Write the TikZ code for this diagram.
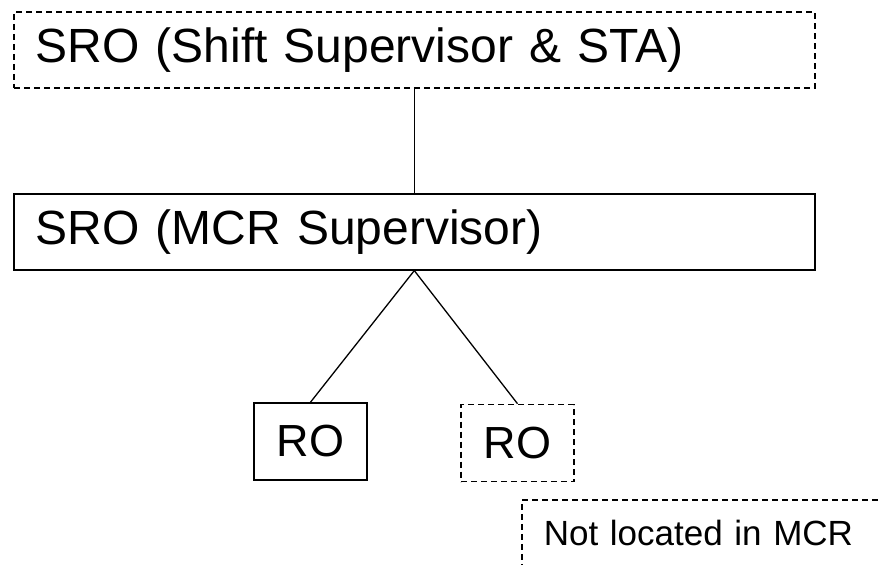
\documentclass[tikz,border=0pt]{standalone}
\usepackage{fontspec}
\setmainfont{Liberation Sans}

\begin{document}
\begin{tikzpicture}[x=1pt,y=-1pt,every node/.style={draw,line width=1.6pt,inner sep=0pt,align=center,minimum width=113pt,minimum height=77pt,font=\fontsize{45}{54}\selectfont},
    wide/.style={anchor=north west,minimum width=801pt,minimum height=76pt,text width=757pt,align=left,font=\fontsize{48}{57}\selectfont},
    dashbox/.style={dash pattern=on 6pt off 4pt}]
    \path[use as bounding box,clip] (0,0) rectangle (879,565);
    \node[wide,dashbox] (sup) at (13,11) {SRO (Shift Supervisor \& STA)};
    \node[wide] (mcr) at (13,193) {SRO (MCR Supervisor)};
    \node (ro) at (310.5,441.5) {RO};
    \node[dashbox] (rx) at (517.5,443) {RO};
    \node[dashbox,anchor=north west,minimum width=400pt,minimum height=66pt,text width=356pt,align=left,font=\fontsize{35}{42}\selectfont] (note) at (521,499) {Not located in MCR};
    \draw[line width=1.3pt] (sup)--(mcr);
    \draw[line width=1.3pt] (mcr.south)--(ro.north);
    \draw[line width=1.3pt] (mcr.south)--(rx.north);
\end{tikzpicture}
\end{document}
